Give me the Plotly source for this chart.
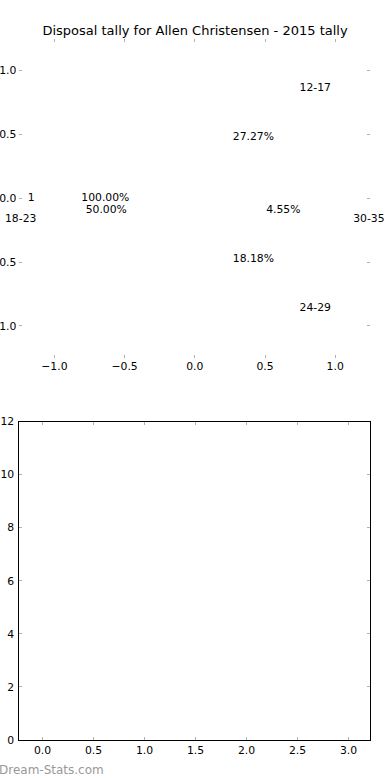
import math
import plotly.graph_objects as go

# ---- data ----
title_text = "Disposal tally for Allen Christensen - 2015 tally"
pie1_labels = ["1"]
pie1_values = [1]
pie2_labels = ["12-17", "18-23", "24-29", "30-35"]
pie2_values = [6, 11, 4, 1]
pie_xticks = [-1.0, -0.5, 0.0, 0.5, 1.0]
pie_yticks = [-1.0, -0.5, 0.0, 0.5, 1.0]
bar_xticks = [0.0, 0.5, 1.0, 1.5, 2.0, 2.5, 3.0]
bar_yticks = [0, 2, 4, 6, 8, 10, 12]
watermark = "Dream-Stats.com"

FONT = "DejaVu Sans"
FS = 10.8
W, H = 390, 780
LABEL_R = 1.14
PCT_R = 0.637


def pie_text(labels, values):
    total = sum(values)
    start = 0.0
    out = []
    for lab, v in zip(labels, values):
        frac = v / total
        mid = math.radians(start + frac * 360 / 2)
        start += frac * 360
        out.append((lab, "%.2f%%" % (frac * 100), math.cos(mid), math.sin(mid)))
    return out


fig = go.Figure()

for labels, values in [(pie1_labels, pie1_values), (pie2_labels, pie2_values)]:
    items = pie_text(labels, values)
    # category labels
    fig.add_trace(go.Scatter(
        x=[LABEL_R * c for _, _, c, s in items],
        y=[LABEL_R * s for _, _, c, s in items],
        text=[lab for lab, _, _, _ in items],
        mode="text", cliponaxis=False,
        textposition=["middle left" if c < 0 else "middle right" for _, _, c, s in items],
        textfont=dict(family=FONT, size=FS, color="black"),
        hoverinfo="skip", showlegend=False, xaxis="x", yaxis="y",
    ))
    # percentage labels
    fig.add_trace(go.Scatter(
        x=[PCT_R * c for _, _, c, s in items],
        y=[PCT_R * s for _, _, c, s in items],
        text=[p for _, p, _, _ in items],
        mode="text", cliponaxis=False,
        textposition="middle center",
        textfont=dict(family=FONT, size=FS, color="black"),
        hoverinfo="skip", showlegend=False, xaxis="x", yaxis="y",
    ))

# empty bottom panel
fig.add_trace(go.Bar(x=[], y=[], xaxis="x2", yaxis="y2", showlegend=False))

tick_common = dict(
    ticks="inside", ticklen=3, tickwidth=1, tickcolor="#b0b0b0",
    tickfont=dict(family=FONT, size=FS, color="black"),
    showgrid=False, zeroline=False, automargin=False,
)

xd = [19.3 / W, 370.3 / W]
fig.update_layout(
    width=W, height=H,
    margin=dict(l=0, r=0, t=0, b=0, pad=0),
    paper_bgcolor="white", plot_bgcolor="white",
    font=dict(family=FONT, size=FS, color="black"),
    title=dict(text=title_text, x=0.5, xanchor="center", y=1 - 30 / H, yanchor="middle",
               font=dict(family=FONT, size=13, color="black")),
    xaxis=dict(domain=xd, range=[-1.25, 1.25], tickvals=pie_xticks,
               ticktext=[("%.1f" % v).replace("-", "\u2212") for v in pie_xticks],
               anchor="y", showline=False, mirror="ticks", **tick_common),
    yaxis=dict(domain=[1 - 357.9 / H, 1 - 38.7 / H], range=[-1.25, 1.25], tickvals=pie_yticks,
               ticktext=[("%.1f" % v).replace("-", "\u2212") for v in pie_yticks],
               anchor="x", showline=False, mirror="ticks", ticklabelstandoff=2, **tick_common),
    xaxis2=dict(domain=xd, range=[-0.228, 3.214], tickvals=bar_xticks,
                ticktext=["%.1f" % v for v in bar_xticks],
                anchor="y2", showline=True, linecolor="black", linewidth=1, mirror="ticks",
                **tick_common),
    yaxis2=dict(domain=[1 - 740 / H, 1 - 421.5 / H], range=[0, 12], tickvals=bar_yticks,
                ticktext=[str(v) for v in bar_yticks],
                anchor="x2", showline=True, linecolor="black", linewidth=1, mirror="ticks",
                ticklabelstandoff=2, **tick_common),
    annotations=[dict(text=watermark, xref="paper", yref="paper",
                      x=-0.002, y=1 - 770 / H, xanchor="left", yanchor="middle", showarrow=False,
                      borderpad=0, borderwidth=0,
                      font=dict(family=FONT, size=12, color="#999999"))],
)

fig.write_html("out.html")
